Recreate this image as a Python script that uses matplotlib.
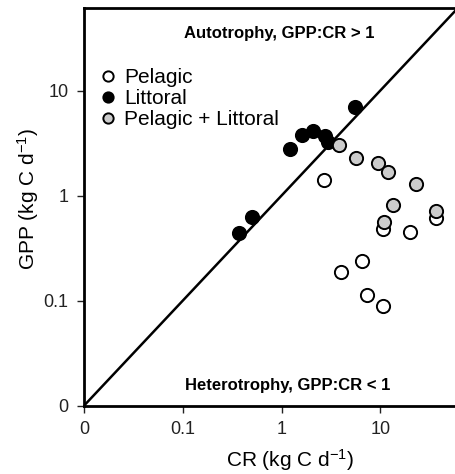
import numpy as np
import matplotlib.pyplot as plt

plt.rcParams["font.family"] = ["Liberation Sans", "DejaVu Sans"]
plt.rcParams["mathtext.default"] = "regular"

# Pelagic (open circles)
pel_cr = [2.70, 10.6, 20.1, 36.3, 3.96, 6.47, 7.27, 10.6]
pel_gpp = [1.41, 0.476, 0.454, 0.610, 0.186, 0.240, 0.113, 0.0886]

# Littoral (black)
lit_cr = [0.373, 0.501, 1.23, 1.62, 2.09, 2.78, 2.95, 5.53]
lit_gpp = [0.439, 0.619, 2.80, 3.74, 4.11, 3.70, 3.25, 7.04]

# Pelagic + Littoral (grey)
pl_cr = [3.84, 5.62, 9.39, 11.9, 22.7, 13.3, 11.0, 37.0]
pl_gpp = [3.04, 2.30, 2.06, 1.66, 1.28, 0.815, 0.560, 0.718]

tick_vals = [0.01, 0.1, 1, 10]
tick_labels = ["0", "0.1", "1", "10"]

fig = plt.figure(figsize=(4.55, 4.74), dpi=100)
ax = fig.add_axes([0.1846, 0.1441, 0.8154, 0.8390])

ax.set_xscale("log")
ax.set_yscale("log")
ax.set_xlim(0.01, 57)
ax.set_ylim(0.01, 61)

one = np.array([0.01, 100])
ax.plot(one, one, color="black", linewidth=1.8, zorder=1)

mk = dict(marker="o", linestyle="none", markersize=9.5, markeredgecolor="black",
          markeredgewidth=1.4)
ax.plot(pel_cr, pel_gpp, markerfacecolor="white", label="Pelagic", zorder=2, **mk)
ax.plot(lit_cr, lit_gpp, markerfacecolor="black", label="Littoral", zorder=3, **mk)
ax.plot(pl_cr, pl_gpp, markerfacecolor="#cccccc", label="Pelagic + Littoral",
        zorder=4, **mk)

ax.text(0.525, 0.935, "Autotrophy, GPP:CR > 1", transform=ax.transAxes,
        ha="center", va="center", fontsize=12, fontweight="bold")
ax.text(0.55, 0.05, "Heterotrophy, GPP:CR < 1", transform=ax.transAxes,
        ha="center", va="center", fontsize=12, fontweight="bold")

ax.set_xticks(tick_vals)
ax.set_xticklabels(tick_labels)
ax.set_yticks(tick_vals)
ax.set_yticklabels(tick_labels)
ax.minorticks_off()
ax.tick_params(direction="out", length=5, width=1, labelsize=13, pad=6,
               colors="#222222")

ax.spines["right"].set_visible(False)
for s in ["left", "bottom", "top"]:
    ax.spines[s].set_linewidth(2)

ax.set_xlabel(r"CR (kg C d$^{-1}$)", fontsize=15)
ax.set_ylabel(r"GPP (kg C d$^{-1}$)", fontsize=15)
ax.xaxis.set_label_coords(0.555, -0.105)
ax.yaxis.set_label_coords(-0.115, 0.52)

ax.legend(loc="upper left", bbox_to_anchor=(0.015, 0.87), frameon=False,
          fontsize=15, handletextpad=0.25, labelspacing=0.1,
          borderaxespad=0.0, handlelength=1.0, markerscale=0.78)

fig.savefig("out.png", dpi=100)
